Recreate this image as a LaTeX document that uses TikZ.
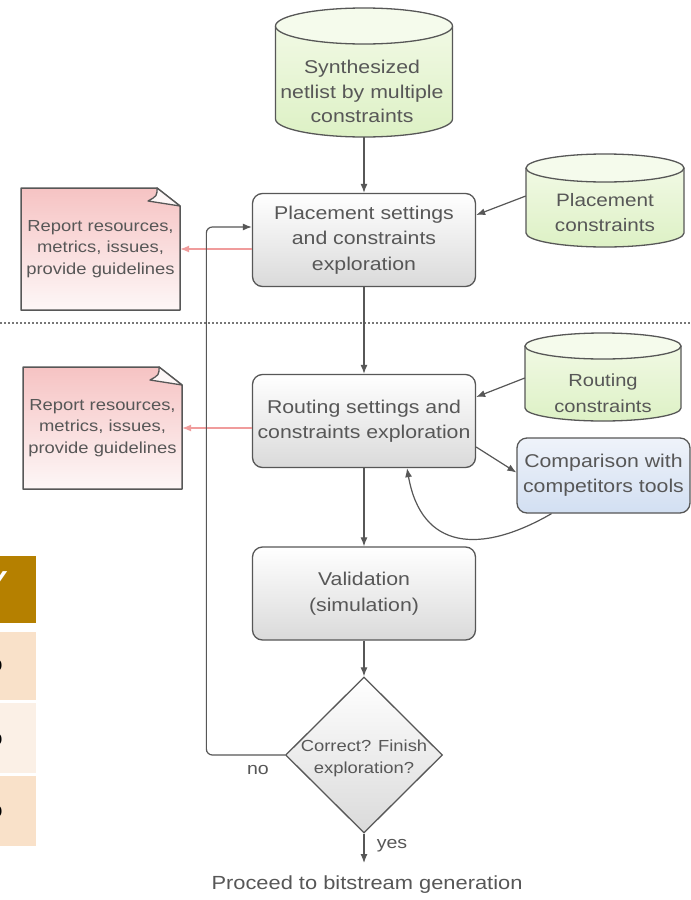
\documentclass[tikz,border=0pt]{standalone}
\usepackage{fontspec}
\setmainfont{Liberation Sans}[FakeStretch=1.15]
\usetikzlibrary{arrows.meta,shapes.geometric}
\definecolor{txtc}{HTML}{575757}
\definecolor{edgec}{HTML}{575757}
\definecolor{boxbot}{HTML}{DADADA}
\definecolor{cyltop}{HTML}{F1F9E4}
\definecolor{cylbot}{HTML}{DDF1C5}
\definecolor{cylcap}{HTML}{F5FBEC}
\definecolor{notetop}{HTML}{F6C3C3}
\definecolor{notebot}{HTML}{FDF7F7}
\definecolor{comptop}{HTML}{EFF3FA}
\definecolor{compbot}{HTML}{D2DFF2}
\definecolor{redc}{HTML}{F09C9C}
\definecolor{brownc}{HTML}{B58000}
\definecolor{beigea}{HTML}{F9E1C9}
\definecolor{beigeb}{HTML}{FBF0E6}
\definecolor{dotc}{HTML}{777777}
\newcommand\fsz[2]{\fontsize{#1}{#2}\selectfont}
% cylinder: name, cx, top y, bottom y, rx, ry
\newcommand\mycyl[6]{%
 \shade[top color=cyltop, bottom color=cylbot] ({#2-#5},{-#3-#6}) -- ({#2-#5},{-#4+#6}) arc[start angle=180,end angle=360,x radius=#5pt,y radius=#6pt] -- ({#2+#5},{-#3-#6}) -- cycle;
 \draw[cylline] ({#2-#5},{-#3-#6}) -- ({#2-#5},{-#4+#6}) arc[start angle=180,end angle=360,x radius=#5pt,y radius=#6pt] -- ({#2+#5},{-#3-#6});
 \draw[cylline, fill=cylcap] (#2,{-#3-#6}) ellipse[x radius=#5pt, y radius=#6pt];
 \node[inner sep=0pt, minimum width={2*#5*1pt}, minimum height={(#4-#3)*1pt}] (#1) at (#2,{-(#3+#4)/2}) {};
}
% note: name, x1, y1, x2, y2, text
\newcommand\mynote[6]{%
 \shade[top color=notetop, bottom color=notebot] (#2,-#3) -- ({#4-23},-#3) -- (#4,{-#3-18}) -- (#4,-#5) -- (#2,-#5) -- cycle;
 \draw[edgec, line width=1.5pt, line join=round] (#2,-#3) -- ({#4-23},-#3) -- (#4,{-#3-18}) -- (#4,-#5) -- (#2,-#5) -- cycle;
 \draw[edgec, line width=1.3pt, fill=notebot, line join=round] ({#4-23},-#3) .. controls ({#4-23},{-#3-8}) .. ({#4-32},{-#3-13}) -- (#4,{-#3-18}) -- cycle;
 \node[inner sep=0pt, minimum width={(#4-#2)*1pt}, minimum height={(#5-#3)*1pt}, align=center, text=txtc, font=\fsz{16}{21.5}] (#1) at ({(#2+#4)/2},{-(#3+#5)/2}) {#6};
}
\begin{document}
\begin{tikzpicture}[x=1pt,y=1pt,
 box/.style={draw=edgec, line width=1.3pt, rounded corners=10pt, top color=white, bottom color=boxbot, align=center, text=txtc, font=\fsz{18.5}{25.5}, minimum width=223pt, minimum height=93pt, inner sep=0pt},
 lbl/.style={align=center, text=txtc, inner sep=0pt},
 arr/.style={draw=edgec, line width=1.2pt, -{Latex[length=9pt,width=7pt]}},
 redarr/.style={draw=redc, line width=1.2pt, -{Latex[length=9pt,width=7pt]}},
 cylline/.style={draw=edgec, line width=1.3pt},
]
\useasboundingbox (0,0) rectangle (691,-900);
\fill[white] (0,0) rectangle (691,-900);

% table fragment at the left edge
\begin{scope}
 \clip (0,-540) rectangle (40,-860);
 \fill[brownc] (0,-556) rectangle (36,-623);
 \fill[beigea] (0,-632) rectangle (36,-700);
 \fill[beigeb] (0,-703) rectangle (36,-773);
 \fill[beigea] (0,-776) rectangle (36,-846);
 \node[anchor=base east, inner sep=0pt, text=white, font=\bfseries\fsz{26}{26}] (ty) at (8,-589) {Y};
 \node[anchor=east, inner sep=0pt, font=\fsz{22}{22}] (t1) at (3,-666) {o};
 \node[anchor=east, inner sep=0pt, font=\fsz{22}{22}] (t2) at (3,-740) {o};
 \node[anchor=east, inner sep=0pt, font=\fsz{22}{22}] (t3) at (3,-812) {o};
\end{scope}

% dotted separator
\coordinate (dl) at (0,-323);
\coordinate (dr) at (691,-323);
\draw[dotc, line width=1.4pt, dash pattern=on 1.6pt off 2.4pt] (dl) -- (dr);

% cylinders
\mycyl{syn}{364}{8}{137}{88.5}{18}
\mycyl{pcon}{605}{154}{247}{79}{14}
\mycyl{rcon}{603}{333}{421}{78}{13}
\node[lbl, font=\fsz{18.5}{24.5}] (synT) at (362,-91.5) {Synthesized\\netlist by multiple\\constraints};
\node[lbl, font=\fsz{18}{25}] (pconT) at (605,-212.5) {Placement\\constraints};
\node[lbl, font=\fsz{17.5}{26}] (rconT) at (603,-393) {Routing\\constraints};

% process boxes
\node[box] (place) at (364,-240) {Placement settings\\and constraints\\exploration};
\node[box] (route) at (364,-421) {Routing settings and\\constraints exploration};
\node[box] (val) at (364,-593.5) {Validation\\(simulation)};
\node[box, font=\fsz{18.5}{25}, top color=comptop, bottom color=compbot, minimum width=173pt, minimum height=75pt] (comp) at (603.5,-475.5) {Comparison with\\competitors tools};

% decision
\node[diamond, draw=edgec, line width=1.3pt, top color=white, bottom color=boxbot, minimum width=157pt, minimum height=156pt, inner sep=0pt] (dia) at (364,-755) {};
\node[lbl, font=\fsz{16}{22}] (diaT) at (364,-758) {Correct? Finish\\exploration?};

% notes
\mynote{note1}{21}{188}{180}{310}{Report resources,\\metrics, issues,\\provide guidelines}
\mynote{note2}{23}{367}{182}{489}{Report resources,\\metrics, issues,\\provide guidelines}

% connectors
\draw[arr] (syn.south) -- (place.north);
\draw[arr] ([yshift=4.5pt]pcon.west) -- ([yshift=25pt]place.east);
\draw[arr] (place.south) -- (route.north);
\draw[arr] ([yshift=-1pt]rcon.west) -- ([yshift=24pt]route.east);
\draw[arr] ([yshift=-26pt]route.east) -- ([yshift=3pt]comp.west);
\draw[arr] ([xshift=-52pt]comp.south) to[out=-150,in=-80,looseness=1.4] ([xshift=43pt]route.south);
\draw[arr] (route.south) -- (val.north);
\draw[arr] (val.south) -- (dia.north);
\draw[redarr] (place.west |- note1.east) -- (note1.east);
\draw[redarr] (route.west |- note2.east) -- (note2.east);
\draw[arr, rounded corners=6pt] (dia.west) -- ++(-78.5,0) |- ([yshift=13pt]place.west);
\coordinate (fin) at (364,-863);
\draw[arr] (dia.south) -- (fin);

\node[lbl, font=\fsz{17}{20}] (no) at (258,-770) {no};
\node[lbl, font=\fsz{17}{20}] (yes) at (392,-846) {yes};
\node[lbl, font=\fsz{19}{22}] (proc) at (367,-885) {Proceed to bitstream generation};
\end{tikzpicture}
\end{document}
